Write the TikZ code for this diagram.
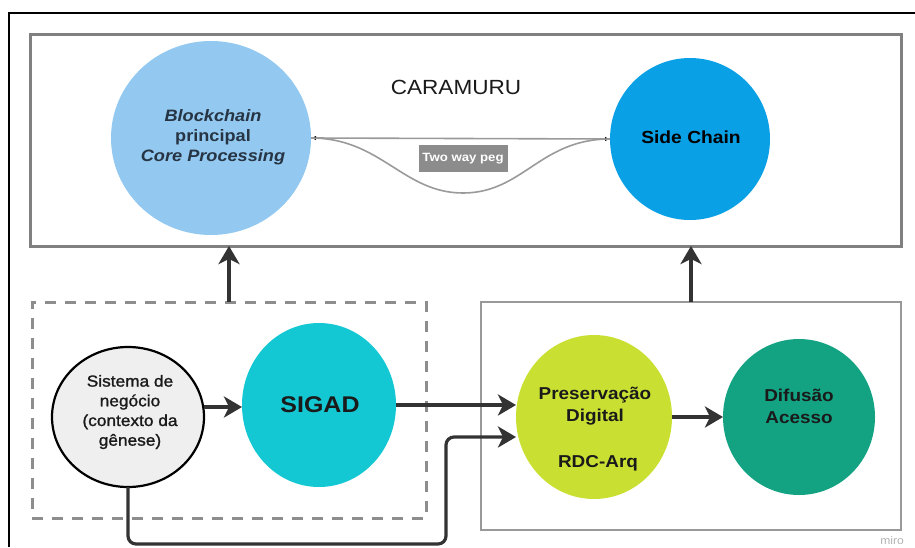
\documentclass[tikz,border=0pt]{standalone}
\usepackage{fontspec}
\setmainfont{Liberation Sans}[FakeStretch=1.1]
\newfontfamily\medfont{Liberation Sans}[FakeStretch=1.08, FakeBold=1.3]
\usetikzlibrary{arrows.meta,shapes.geometric}
\definecolor{cBlock}{HTML}{93C9F0}
\definecolor{cSide}{HTML}{0AA0E6}
\definecolor{cSigad}{HTML}{14C8D3}
\definecolor{cPres}{HTML}{C9E032}
\definecolor{cDif}{HTML}{13A383}
\definecolor{cSis}{HTML}{EFEFEF}
\definecolor{txt}{HTML}{1A1A1A}
\definecolor{bctext}{HTML}{263444}
\definecolor{arrc}{HTML}{333333}
\definecolor{boxg}{HTML}{808080}
\definecolor{pegg}{HTML}{9A9A9A}
\definecolor{pegbox}{HTML}{8C8C8C}
\begin{document}
\begin{tikzpicture}[x=1pt,y=-1pt,
  ell/.style={ellipse, inner sep=0pt, outer sep=0pt},
  lbl/.style={align=center, text=txt, font=\bfseries},
  arr/.style={draw=arrc, line width=3.2pt, -{Stealth[length=18pt,width=21pt,inset=5pt]}},
  frame/.style={inner sep=0pt, outer sep=0pt}]
\useasboundingbox (0,0) rectangle (915,547);
% outer frame
\draw[line width=2pt] (9,547) -- (9,13) -- (915,13);
% boxes
\node[frame, draw=boxg, line width=3pt, minimum width=871pt, minimum height=212pt] (top) at (465.5,140) {};
\node[frame, draw=boxg!90, dash pattern=on 11pt off 9pt, line width=3pt, minimum width=394pt, minimum height=216pt] (dash) at (229,410) {};
\node[frame, draw=boxg!80, line width=1.2pt, minimum width=420pt, minimum height=228pt] (rbox) at (691,416) {};
% title
\node[text=txt, font=\fontsize{20.5}{24}\selectfont] (title) at (456,87) {CARAMURU};
% top ellipses
\node[ell, fill=cBlock, minimum width=200pt, minimum height=194pt] (bc) at (211,138) {};
\node[lbl, font=\fontsize{16.5}{20}\selectfont\bfseries, text=bctext] (bctxt) at (213,137) {\textit{Blockchain}\\principal\\\textit{Core Processing}};
\node[ell, fill=cSide, minimum width=160pt, minimum height=162pt] (sc) at (690,139) {};
\node[lbl, font=\fontsize{17.5}{21}\selectfont\bfseries, text=black] (sctxt) at (691,137) {Side Chain};
% two way peg
\coordinate (pb) at (463,193);
\draw[pegg, line width=1.6pt, {Latex[length=5pt,width=4.5pt,black]}-{Latex[length=5pt,width=4.5pt,black]}] (bc.east) -- (sc.west);
\draw[pegg, line width=1.6pt] (bc.east) .. controls +(70,0) and +(-60,0) .. (pb) .. controls +(60,0) and +(-70,0) .. (sc.west);
\node[fill=pegbox, text=white, font=\fontsize{12}{14}\selectfont\bfseries, minimum width=89pt, minimum height=27pt, inner sep=0pt] (peg) at (463,158.5) {Two way peg};
% bottom ellipses
\node[ell, fill=cSis, draw=black, line width=2.2pt, minimum width=152pt, minimum height=140pt] (sis) at (128,417) {};
\node[align=center, text=txt, font=\medfont\fontsize{16}{19.7}\selectfont] (sistxt) at (130,412) {Sistema de\\negócio\\(contexto da\\gênese)};
\node[ell, fill=cSigad, minimum width=154pt, minimum height=164pt] (sigad) at (319,405) {};
\node[lbl, font=\fontsize{22.7}{26}\selectfont\bfseries] (sigadtxt) at (320,405) {SIGAD};
\node[ell, fill=cPres, minimum width=156pt, minimum height=164pt] (pres) at (594,417) {};
\node[lbl, font=\fontsize{17.2}{22}\selectfont\bfseries] (prestxt) at (595,406) {Preservação\\Digital};
\node[lbl, font=\fontsize{17.2}{22}\selectfont\bfseries] (rdctxt) at (598,463) {RDC-Arq};
\node[ell, fill=cDif, minimum width=152pt, minimum height=156pt] (dif) at (799,417) {};
\node[lbl, font=\fontsize{17.2}{22}\selectfont\bfseries] (diftxt) at (799,406) {Difusão\\Acesso};
% connectors
\draw[arr] (dash.north) -- (dash.north |- top.south);
\draw[arr] (rbox.north) -- (rbox.north |- top.south);
\draw[arr] (sis.east |- 0,407) -- (sigad.west |- 0,407);
\draw[arr] (sigad.east) -- (pres.west |- sigad.east);
\draw[arr] (pres.east) -- (dif.west);
\coordinate (b1) at (446,544);
\coordinate (b2) at (446,437);
\draw[arr, rounded corners=8pt] (sis.south) |- (b1) -- (b2) -- (pres.west |- b2);
% watermark
\node[text=black!30, font=\fontsize{11}{12}\selectfont] (miro) at (892,541) {miro};
\end{tikzpicture}
\end{document}
